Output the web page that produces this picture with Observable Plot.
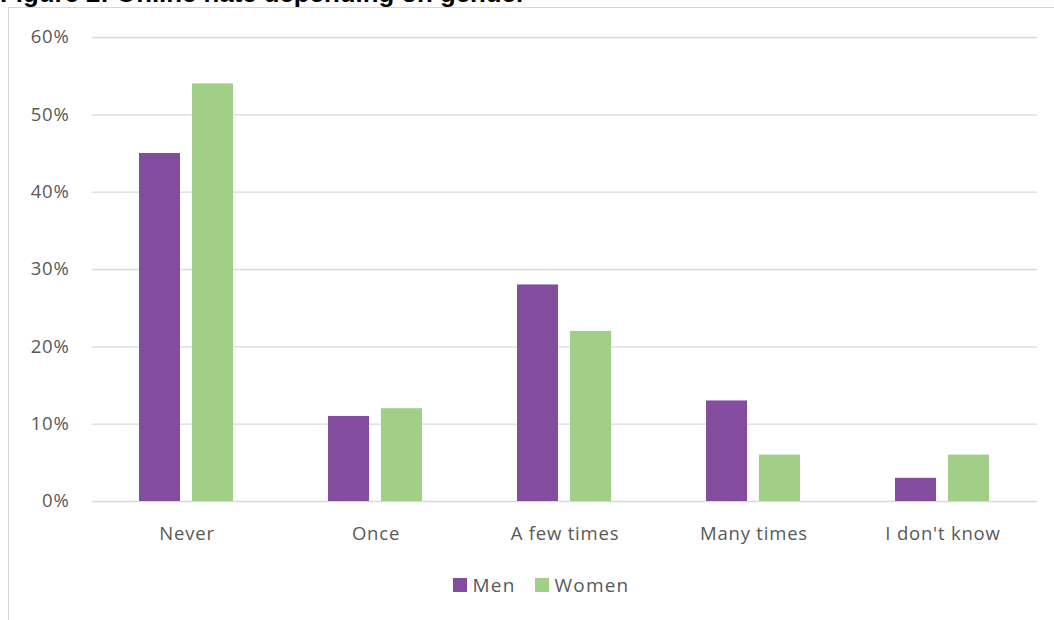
<!DOCTYPE html>
<html>
<head>
<meta charset="utf-8">
<script src="https://cdn.jsdelivr.net/npm/d3@7"></script>
<script src="https://cdn.jsdelivr.net/npm/@observablehq/plot@0.6"></script>
<style>
  html, body { margin: 0; padding: 0; background: #fff; overflow: hidden; }
  #wrap { position: relative; width: 1054px; height: 620px; overflow: hidden; }
  #title { position: absolute; left: 0px; top: -21px; font: bold 25.8px "Liberation Sans", Arial, sans-serif; color: #000; white-space: nowrap; }
  #frame { position: absolute; left: 8px; top: 7px; width: 1100px; height: 700px; border: 1px solid #d9d9d9; box-sizing: border-box; }
  #chart { position: absolute; left: 0; top: 0; }
  #legend { position: absolute; top: 572px; left: 0; width: 1082px; display: flex; justify-content: center; gap: 19px; font: 19px "Open Sans", sans-serif; letter-spacing: 1.2px; color: #595959; }
  #legend span.item { display: flex; align-items: center; gap: 6px; }
  #legend span.sw { display: inline-block; width: 14px; height: 14px; }
</style>
</head>
<body>
<div id="wrap">
  <div id="frame"></div>
  <div id="title">Figure 2: Online hate depending on gender</div>
  <div id="chart"></div>
  <div id="legend"></div>
</div>
<script>
const categories = ["Never", "Once", "A few times", "Many times", "I don't know"];
const series = ["Men", "Women"];
const menValues = [45, 11, 28, 13, 3];
const womenValues = [54, 12, 22, 6, 6];
const colors = ["#834C9F", "#A1CF87"];
const yTicks = [0, 10, 20, 30, 40, 50, 60];

const data = [];
categories.forEach((c, i) => {
  data.push({category: c, series: "Men", value: menValues[i]});
  data.push({category: c, series: "Women", value: womenValues[i]});
});

const chart = Plot.plot({
  width: 1054,
  height: 560,
  marginTop: 37,
  marginBottom: 59,
  marginLeft: 90,
  marginRight: 16,
  style: {fontFamily: "'Open Sans', sans-serif", fontSize: "18px", color: "#595959", background: "transparent", letterSpacing: "0.8px"},
  fx: {domain: categories, paddingInner: 0, paddingOuter: 0, label: null},
  x: {domain: series, paddingInner: 0.222, paddingOuter: 0.867, axis: null},
  y: {domain: [0, 60], label: null},
  color: {domain: series, range: colors},
  marks: [
    Plot.ruleY(yTicks, {stroke: "#d9d9d9", strokeWidth: 1.3}),
    Plot.barY(data, {fx: "category", x: "series", y: "value", fill: "series"}),
    Plot.axisY(yTicks, {tickSize: 0, tickPadding: 23, tickFormat: d => d + "%", label: null, fontSize: 18.5, fill: "#595959"}),
    Plot.axisFx({anchor: "bottom", tickSize: 0, tickPadding: 25, label: null, fontSize: 18.5, fill: "#595959"})
  ]
});
document.getElementById("chart").appendChild(chart);

const legend = document.getElementById("legend");
series.forEach((s, i) => {
  const item = document.createElement("span");
  item.className = "item";
  const sw = document.createElement("span");
  sw.className = "sw";
  sw.style.background = colors[i];
  item.appendChild(sw);
  item.appendChild(document.createTextNode(s));
  legend.appendChild(item);
});
</script>
</body>
</html>
